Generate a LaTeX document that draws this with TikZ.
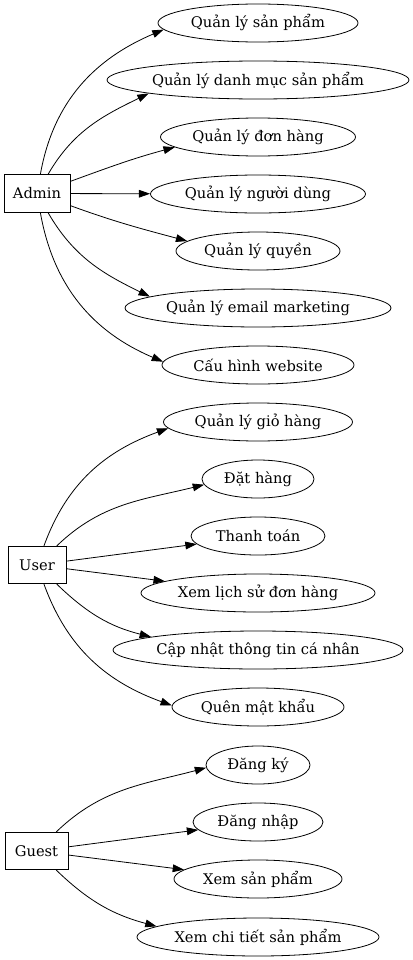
\documentclass[tikz,border=0pt]{standalone}
\usepackage{fontspec}
\setmainfont{DejaVu Serif}
\usetikzlibrary{shapes.geometric,arrows.meta}
\tikzset{
  uc/.style={ellipse, draw, line width=0.6pt, inner sep=0pt, minimum height=28.5pt, minimum width=#1},
  actor/.style={rectangle, draw, line width=0.6pt, inner sep=0pt, minimum height=28pt, minimum width=#1},
  arr/.style={-{Triangle[length=8.5pt,width=5.8pt]}, line width=0.6pt},
  every node/.style={font=\fontsize{11}{13}\selectfont}
}
\begin{document}
\begin{tikzpicture}[x=0.75pt,y=0.75pt]
\useasboundingbox (0,0) rectangle (413,-960);
% actors
\node[actor=49.5pt] (admin) at (37,-193.5) {Admin};
\node[actor=43.5pt] (user) at (37,-565) {User};
\node[actor=47.25pt] (guest) at (36.5,-851) {Guest};
% admin use cases
\node[uc=150pt] (a1) at (258,-23) {Quản lý sản phẩm};
\node[uc=226.5pt] (a2) at (258,-80) {Quản lý danh mục sản phẩm};
\node[uc=146.25pt] (a3) at (258,-137) {Quản lý đơn hàng};
\node[uc=161.25pt] (a4) at (258,-194) {Quản lý người dùng};
\node[uc=123pt] (a5) at (258,-251) {Quản lý quyền};
\node[uc=199.5pt] (a6) at (258,-308) {Quản lý email marketing};
\node[uc=144pt] (a7) at (258,-365) {Cấu hình website};
% user use cases
\node[uc=141.75pt] (u1) at (258,-422) {Quản lý giỏ hàng};
\node[uc=84pt] (u2) at (258,-479) {Đặt hàng};
\node[uc=100.5pt] (u3) at (258,-536) {Thanh toán};
\node[uc=175.5pt] (u4) at (258,-593) {Xem lịch sử đơn hàng};
\node[uc=217.5pt] (u5) at (258,-650) {Cập nhật thông tin cá nhân};
\node[uc=129pt] (u6) at (258,-707) {Quên mật khẩu};
% guest use cases
\node[uc=78pt] (g1) at (258,-765) {Đăng ký};
\node[uc=97.5pt] (g2) at (258,-822) {Đăng nhập};
\node[uc=126pt] (g3) at (258,-879) {Xem sản phẩm};
\node[uc=181.5pt] (g4) at (258,-937) {Xem chi tiết sản phẩm};
% admin edges
\draw[arr] (admin) to[out=80,in=203] (a1.184);
\draw[arr] (admin) to[out=60,in=206] (a2.187);
\draw[arr] (admin) to[out=20,in=195] (a3.187);
\draw[arr] (admin) -- (a4);
\draw[arr] (admin) to[out=-20,in=165] (a5.172);
\draw[arr] (admin) to[out=-60,in=154] (a6.174);
\draw[arr] (admin) to[out=-80,in=157] (a7.178);
% user edges
\draw[arr] (user) to[out=70,in=200] (u1.184);
\draw[arr] (user) to[out=44,in=194] (u2.186);
\draw[arr] (user) -- (u3);
\draw[arr] (user) -- (u4);
\draw[arr] (user) to[out=-44,in=166] (u5.173);
\draw[arr] (user) to[out=-70,in=160] (u6.179);
% guest edges
\draw[arr] (guest) to[out=44,in=195] (g1.183);
\draw[arr] (guest) -- (g2);
\draw[arr] (guest) -- (g3);
\draw[arr] (guest) to[out=-44,in=165] (g4.174);
\end{tikzpicture}
\end{document}
